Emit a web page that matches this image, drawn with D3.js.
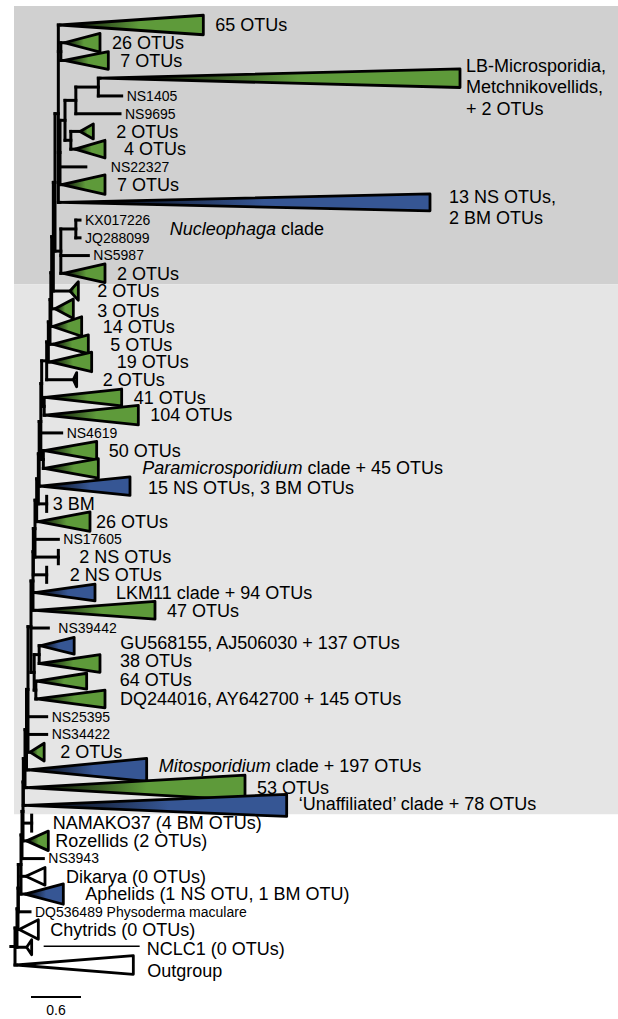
<!DOCTYPE html>
<html>
<head>
<meta charset="utf-8">
<script src="https://cdn.jsdelivr.net/npm/d3@7"></script>
<style>
  body { margin: 0; background: #fff; }
  text { font-family: Arial, "Liberation Sans", sans-serif; fill: #000; }
</style>
</head>
<body>
<svg id="tree"></svg>
<script>
// internal nodes: id, parent, depth (substitutions per site)
const nodeIds = ['n0','n1','n2','n3','n4','n5','n6','n7','n8','n9','n10','n11','n12','n13','n14','n15','n16','n17','n18','n19','n20','n21','n22','n23','n24','n25',
  'nT0','nT1','nT2','nT3','nT4','nT5','nT6','nT7','nT8','nT9','n18b','n19b','nGU','nGUa','nGUb'];
const nodeParent = [null,'n0','n1','n2','n3','n4','n5','n6','n7','n8','n9','n10','n11','n12','n13','n14','n15','n16','n17','n18','n19','n20','n21','n22','n23','n24',
  'n25','nT0','nT1','nT1','nT3','nT4','nT5','nT4','nT0','nT8','n18','n19','n11','nGU','nGU'];
const nodeDepth = [0,0.024,0.036,0.04,0.072,0.084,0.096,0.10,0.12,0.138,0.156,0.192,0.216,0.22,0.24,0.26,0.28,0.29,0.31,0.32,0.38,0.40,0.42,0.43,0.44,0.46,
  0.48,0.52,0.55,0.54,0.60,0.73,1.0,0.67,0.55,0.73,0.34,0.35,0.23,0.29,0.25];

// leaves and collapsed clades, top to bottom
const leafIds = ['c65','c26','c7a','cLB','NS1405','NS9695','c2a','c4','NS22327','c7b','c13NS','KX017226','JQ288099','NS5987','c2b',
  'c2e','c3','c14','c5','c19','c2d','c41','c104','NS4619','c50','cPara','c15NS','c3BM','c26b','NS17605','c2NSa','c2NSb','cLKM','c47',
  'NS39442','cGU','c38','c64','cDQ','NS25395','NS34422','c2c','cMito','c53','cUnaff',
  'cNAMAKO','cRozellids','NS3943','cDikarya','cAphelids','DQ536489','cChytrids','cNCLC1','cOutgroup'];
const leafParent = ['nT1','nT2','nT2','nT6','nT6','nT5','nT7','nT7','nT3','nT3','nT1','nT9','nT9','nT8','nT8',
  'n25','n24','n23','n22','n21','n20','n19b','n19b','n18','n18b','n18b','n17','n16','n15','n14','n14','n13','n12','n12',
  'n11','nGUa','nGUa','nGUb','nGUb','n10','n10','n10','n9','n8','n7',
  'n6','n6','n5','n4','n4','n3','n2','n1','n0'];
// depth where the clade starts (null = single sequence) and its deepest tip
const leafStart = [0.54,0.59,0.59,1.02,null,null,0.78,0.72,null,0.56,0.54,null,null,null,0.58,
  0.66,0.48,0.45,0.45,0.42,0.70,0.36,0.36,null,0.35,0.35,0.30,null,0.28,null,null,null,0.24,0.24,
  null,0.30,0.30,0.26,0.26,null,null,0.18,0.16,0.14,0.12,
  null,0.14,null,0.13,0.12,null,0.05,0.14,0.02];
const leafEnd = [2.26,1.02,1.12,5.34,1.28,1.26,0.94,1.08,0.85,1.08,4.98,0.78,0.78,0.88,1.08,
  0.76,0.70,0.80,0.88,0.92,0.74,1.28,1.48,0.56,0.98,1.00,1.38,0.38,0.90,0.52,0.52,0.38,0.96,1.68,
  0.40,0.71,1.02,0.86,1.08,0.38,0.38,0.35,1.58,2.76,3.26,
  0.20,0.40,0.34,0.36,0.58,0.18,0.28,0.20,1.42];
// g = green, b = blue, w = no new sequences, line = single sequence, bar = zero-length clade
const leafKind = ['g','g','g','g','line','line','g','g','line','g','b','line','line','line','g',
  'g','g','g','g','g','g','g','g','line','g','g','b','bar','g','line','bar','bar','b','g',
  'line','b','g','g','g','line','line','g','b','g','b',
  'bar','g','line','w','b','line','w','w','w'];
// collapsed clade height, in rows
const leafSpan = [1.1,1.05,1.0,1.05,0,0,0.85,1.0,0,1.1,0.95,0,0,0,1.05,
  1.05,1.1,1.1,1.05,1.1,0.8,0.95,1.1,0,1.05,1.1,1.05,0.85,1.1,0,0.75,0.85,0.95,1.0,
  0,0.95,1.0,0.9,1.0,0,0,1.0,1.3,1.4,1.25,
  0.9,1.1,0,1.0,1.15,0,1.1,0.85,1.05];
const leafLabels = ['65 OTUs','26 OTUs','7 OTUs','LB-Microsporidia,\nMetchnikovellids,\n+ 2 OTUs','NS1405','NS9695','2 OTUs','4 OTUs','NS22327','7 OTUs',
  '13 NS OTUs,\n2 BM OTUs','KX017226','JQ288099','NS5987','2 OTUs',
  '2 OTUs','3 OTUs','14 OTUs','5 OTUs','19 OTUs','2 OTUs','41 OTUs','104 OTUs','NS4619','50 OTUs',
  '_Paramicrosporidium_ clade + 45 OTUs','15 NS OTUs, 3 BM OTUs','3 BM','26 OTUs','NS17605','2 NS OTUs','2 NS OTUs',
  'LKM11 clade + 94 OTUs','47 OTUs','NS39442','GU568155, AJ506030 + 137 OTUs','38 OTUs','64 OTUs',
  'DQ244016, AY642700 + 145 OTUs','NS25395','NS34422','2 OTUs','_Mitosporidium_ clade + 197 OTUs','53 OTUs',
  '\u2018Unaffiliated\u2019 clade + 78 OTUs','NAMAKO37 (4 BM OTUs)','Rozellids (2 OTUs)','NS3943','Dikarya (0 OTUs)',
  'Aphelids (1 NS OTU, 1 BM OTU)','DQ536489 Physoderma maculare','Chytrids (0 OTUs)','NCLC1 (0 OTUs)','Outgroup'];
const cladeNoteNode = ['nT9'];
const cladeNoteText = ['_Nucleophaga_ clade'];
const scaleBarValue = 0.6;

// hand placement of labels, px [dx, dy]
const nudge = {cLB:[-6,-13], NS22327:[20,0], c2a:[11,0], c4:[7,0], c13NS:[7,-6], c2e:[7,0], c3:[12,2], c14:[9,0],
  c5:[10,0], c19:[13,0], c2d:[14,0], cPara:[32,-1], c15NS:[6,2], c26b:[-6,0], c2NSa:[15,0], c2NSb:[17,0],
  cLKM:[9,0], NS39442:[5,0], cGU:[34,-3], c38:[8,-3], c64:[21,-2], cDQ:[3,0], c2c:[4,0], cNAMAKO:[15,0],
  cRozellids:[-5,0], cDikarya:[9,0], cAphelids:[10,0], cNCLC1:[103,1], cUnaff:[0,-2], cMito:[0,-4],
  cOutgroup:[2,6]};
const noteNudge = [94];

const W = 618, H = 1019;
const colors = {g: '#5e9a3a', b: '#365694'};

const svg = d3.select('#tree').attr('width', W).attr('height', H);

const x = d3.scaleLinear().domain([0, 0.6]).range([15, 65]);
const y = d3.scalePoint().domain(leafIds).range([25, 965]);
const step = y.step();

const nodes = new Map();
nodeIds.forEach((id, i) => nodes.set(id, {id, parent: nodeParent[i], depth: nodeDepth[i], kids: []}));
nodeIds.forEach(id => { const n = nodes.get(id); if (n.parent) nodes.get(n.parent).kids.push(n); });
const leaves = leafIds.map((id, i) => {
  const l = {id, leaf: true, parent: leafParent[i], start: leafStart[i], end: leafEnd[i],
    kind: leafKind[i], span: leafSpan[i], label: leafLabels[i], y: y(id)};
  l.depth = l.start != null ? l.start : l.end;
  nodes.get(l.parent).kids.push(l);
  return l;
});

function setY(n) {
  if (n.leaf) return n.y;
  const ys = n.kids.map(setY);
  n.y0 = d3.min(ys); n.y1 = d3.max(ys);
  n.y = (n.y0 + n.y1) / 2;
  return n.y;
}
const root = nodes.get('n0');
setY(root);

// shaded groups
const boxTop = y(leafIds[0]) - step * 1.07;
const split1 = (y('c2b') + y('c2e')) / 2 + 2;
const split2 = (y('cUnaff') + y('cNAMAKO')) / 2;
svg.append('rect').attr('x', 14).attr('y', boxTop).attr('width', W - 14).attr('height', split1 - boxTop).attr('fill', '#d0d0d0');
svg.append('rect').attr('x', 14).attr('y', split1).attr('width', W - 14).attr('height', split2 - split1).attr('fill', '#e5e5e5');

const defs = svg.append('defs');
Object.entries(colors).forEach(([k, c]) => {
  const g = defs.append('linearGradient').attr('id', 'grad-' + k);
  g.append('stop').attr('offset', '0%').attr('stop-color', '#000');
  g.append('stop').attr('offset', '55%').attr('stop-color', c);
});

// branches
const segs = [[x(-0.05), root.y, x(0), root.y]];
nodes.forEach(n => {
  segs.push([x(n.depth), n.y0, x(n.depth), n.y1]);
  if (n.parent) segs.push([x(nodes.get(n.parent).depth), n.y, x(n.depth), n.y]);
});
leaves.forEach(l => {
  segs.push([x(nodes.get(l.parent).depth), l.y, x(l.depth), l.y]);
  if (l.kind === 'bar') segs.push([x(l.end), l.y - l.span * step / 2, x(l.end), l.y + l.span * step / 2]);
});
svg.append('g')
  .selectAll('line')
  .data(segs)
  .join('line')
  .attr('x1', d => d[0]).attr('y1', d => d[1])
  .attr('x2', d => d[2]).attr('y2', d => d[3])
  .attr('stroke', '#000').attr('stroke-width', 3).attr('stroke-linecap', 'square');

// collapsed clades
svg.append('g')
  .selectAll('polygon')
  .data(leaves.filter(l => l.start != null))
  .join('polygon')
  .attr('points', l => {
    const h = l.span * step / 2;
    return [[x(l.start), l.y], [x(l.end), l.y - h], [x(l.end), l.y + h]].join(' ');
  })
  .attr('fill', l => l.kind === 'w' ? '#fff' : `url(#grad-${l.kind})`)
  .attr('stroke', '#000').attr('stroke-width', 2.8).attr('stroke-linejoin', 'round');

function rich(sel, str) {
  str.split('_').forEach((part, i) => {
    if (part) sel.append('tspan').attr('font-style', i % 2 ? 'italic' : null).text(part);
  });
}

const gap = {line: 5, bar: 6};
const labels = svg.append('g');
leaves.forEach(l => {
  const [dx, dy] = nudge[l.id] || [0, 0];
  const lx = x(l.end) + (gap[l.kind] || 12) + dx;
  const size = l.kind === 'line' ? 14 : 18;
  l.label.split('\n').forEach((line, j) => {
    const t = labels.append('text')
      .attr('x', lx).attr('y', l.y + dy + j * 21.5).attr('dy', '0.35em')
      .attr('font-size', size);
    rich(t, line);
  });
  if (l.id === 'cNCLC1') {
    labels.append('line')
      .attr('x1', x(l.end) + 12).attr('x2', lx - 7)
      .attr('y1', l.y - 1).attr('y2', l.y - 1)
      .attr('stroke', '#000').attr('stroke-width', 1.5);
  }
});

cladeNoteNode.forEach((id, i) => {
  const n = nodes.get(id);
  const t = labels.append('text')
    .attr('x', x(n.depth) + noteNudge[i]).attr('y', n.y).attr('dy', '0.35em')
    .attr('font-size', 18);
  rich(t, cladeNoteText[i]);
});

// scale bar
const sbY = y(leafIds[leafIds.length - 1]) + 32;
const sbX = 31;
const sbLen = x(scaleBarValue) - x(0);
svg.append('line')
  .attr('x1', sbX).attr('x2', sbX + sbLen).attr('y1', sbY).attr('y2', sbY)
  .attr('stroke', '#000').attr('stroke-width', 2);
svg.append('text')
  .attr('x', sbX + sbLen / 2).attr('y', sbY + 13).attr('dy', '0.35em')
  .attr('text-anchor', 'middle').attr('font-size', 14)
  .text(scaleBarValue);
</script>
</body>
</html>
